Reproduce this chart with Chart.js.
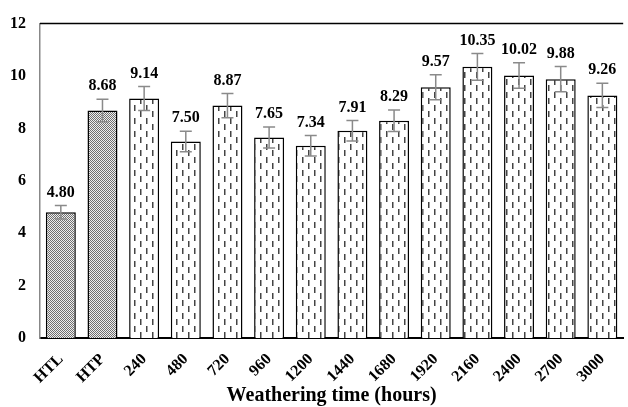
<!DOCTYPE html>
<html>
<head>
<meta charset="utf-8">
<script src="https://cdn.jsdelivr.net/npm/chart.js@4.4.1/dist/chart.umd.min.js"></script>
<style>
  html, body { margin: 0; padding: 0; background: #fff; }
  #wrap { width: 628px; height: 407px; }
</style>
</head>
<body>
<div id="wrap"><canvas id="weatherChart" width="628" height="407"></canvas></div>
<script>
const categories = ["HTL", "HTP", "240", "480", "720", "960", "1200", "1440", "1680", "1920", "2160", "2400", "2700", "3000"];
const meanValues = [4.80, 8.68, 9.14, 7.50, 8.87, 7.65, 7.34, 7.91, 8.29, 9.57, 10.35, 10.02, 9.88, 9.26];
const errorValues = [0.26, 0.43, 0.46, 0.39, 0.46, 0.40, 0.39, 0.39, 0.41, 0.48, 0.51, 0.49, 0.48, 0.46];
const refCount = 2; // las dos primeras barras son referencias (HTL, HTP)

const serif = "'Liberation Serif', 'Times New Roman', serif";

// patrón cuadriculado para las referencias
function checkerPattern() {
    const c = document.createElement("canvas");
    c.width = 2; c.height = 2;
    const g = c.getContext("2d");
    g.fillStyle = "#efefef"; g.fillRect(0, 0, 2, 2);
    g.fillStyle = "#707070"; g.fillRect(0, 0, 1, 1); g.fillRect(1, 1, 1, 1);
    return g.createPattern(c, "repeat");
}

// patrón de guiones verticales para las muestras envejecidas
function dashPattern() {
    const c = document.createElement("canvas");
    c.width = 12; c.height = 13;
    const g = c.getContext("2d");
    g.fillStyle = "#fff"; g.fillRect(0, 0, 12, 13);
    g.fillStyle = "#444";
    g.fillRect(2, 1, 1.5, 6);
    g.fillRect(8, 7, 1.5, 6);
    return g.createPattern(c, "repeat");
}

const ctx = document.getElementById("weatherChart").getContext("2d");
const checker = checkerPattern();
const dashes = dashPattern();

const errorBarPlugin = {
    id: "errorBars",
    afterDatasetsDraw(chart) {
        const meta = chart.getDatasetMeta(0);
        const y = chart.scales.y;
        const c = chart.ctx;
        c.save();
        c.strokeStyle = "#8a8a8a";
        c.lineWidth = 1.5;
        meta.data.forEach((bar, i) => {
            const top = y.getPixelForValue(meanValues[i] + errorValues[i]);
            const bot = y.getPixelForValue(meanValues[i] - errorValues[i]);
            c.beginPath();
            c.moveTo(bar.x, top); c.lineTo(bar.x, bot);
            c.moveTo(bar.x - 6, top); c.lineTo(bar.x + 6, top);
            c.moveTo(bar.x - 6, bot); c.lineTo(bar.x + 6, bot);
            c.stroke();
        });
        // etiquetas de valor
        c.fillStyle = "#000";
        c.font = "bold 16px " + serif;
        c.textAlign = "center";
        c.textBaseline = "middle";
        meta.data.forEach((bar, i) => {
            const top = y.getPixelForValue(meanValues[i] + errorValues[i]);
            c.fillText(meanValues[i].toFixed(2), bar.x, top - 13);
        });
        // borde superior del área
        const a = chart.chartArea;
        c.strokeStyle = "#000";
        c.lineWidth = 1.5;
        c.beginPath();
        c.moveTo(a.left, a.top); c.lineTo(a.right, a.top);
        c.stroke();
        c.restore();
    }
};

new Chart(ctx, {
    type: "bar",
    data: {
        labels: categories,
        datasets: [{
            data: meanValues,
            backgroundColor: meanValues.map((v, i) => i < refCount ? checker : dashes),
            borderColor: "#000",
            borderWidth: 1.5,
            barPercentage: 0.72,
            categoryPercentage: 1.0
        }]
    },
    options: {
        responsive: false,
        animation: false,
        layout: { padding: { top: 18, right: 2, left: 0, bottom: 0 } },
        plugins: {
            legend: { display: false },
            tooltip: { enabled: false }
        },
        scales: {
            x: {
                grid: { display: false, drawTicks: false },
                border: { display: true, color: "#000", width: 2 },
                ticks: {
                    color: "#000",
                    font: { family: serif, size: 16, weight: "bold" },
                    minRotation: 45,
                    maxRotation: 45,
                    autoSkip: false,
                    padding: 12
                },
                title: {
                    display: true,
                    text: "Weathering time (hours)",
                    color: "#000",
                    font: { family: serif, size: 20, weight: "bold" },
                    padding: { top: 0, bottom: -1 }
                },
                afterFit(scale) { scale.height = 69; }
            },
            y: {
                min: 0,
                max: 12,
                grid: { display: false, drawTicks: false },
                border: { display: true, color: "#888", width: 1.5 },
                ticks: {
                    stepSize: 2,
                    color: "#000",
                    padding: 14,
                    font: { family: serif, size: 16, weight: "bold" }
                },
                afterFit(scale) { scale.width = 40; }
            }
        }
    },
    plugins: [errorBarPlugin]
});
</script>
</body>
</html>
